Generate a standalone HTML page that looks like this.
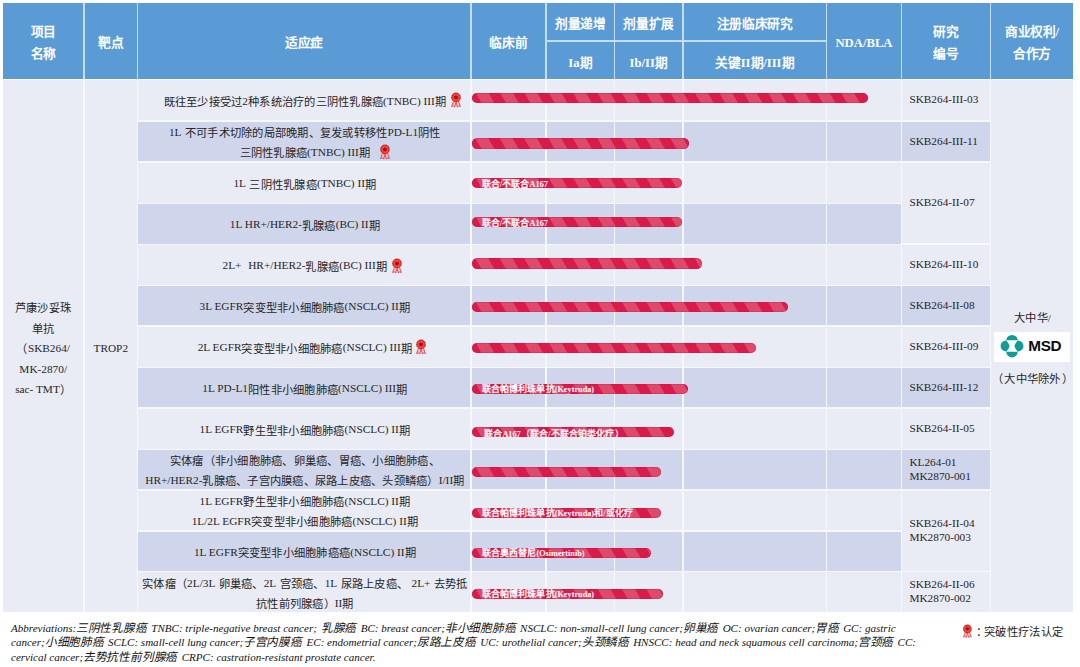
<!DOCTYPE html>
<html lang="zh-CN"><head><meta charset="utf-8"><title>Pipeline</title>
<style>
*{margin:0;padding:0;box-sizing:border-box}
html,body{width:1080px;height:667px;overflow:hidden;background:#fff}
body{position:relative;font-family:"Liberation Sans",sans-serif;color:#262626}
.l,.st{font-family:"Liberation Serif",serif}
#pg{position:absolute;left:0;top:0;width:1080px;height:667px;background:#fff;overflow:hidden}
.hbg{position:absolute;left:2.9px;top:2.9px;width:1069.9px;height:75.7px;background:#c3def8}
.bbg{position:absolute;left:2.9px;top:80.4px;width:1069.9px;height:531.3px;background:#f7f8fc}
.c{position:absolute;display:flex;align-items:center;justify-content:center;text-align:center;white-space:nowrap}
i{font-style:normal}
.h{color:#fff;font-weight:bold;font-size:12.7px;line-height:22.2px;letter-spacing:-.35px}
.h span{display:block;position:relative;top:2.6px}
.h .l{position:relative;top:0.1px;letter-spacing:0}
.s2 span{top:3.2px}
.s1 span{top:2.6px}
.b{font-size:11.3px;line-height:20.5px;color:#262626;letter-spacing:.25px}
.b .l{position:relative;top:-1.4px;letter-spacing:0}
.ind span{display:block;position:relative;top:1.9px;left:0.7px;line-height:20px}
.name{letter-spacing:.45px}
.name span{display:block;position:relative;top:3.7px}
.tg span{display:block;position:relative;top:3.6px}
.st{justify-content:flex-start;text-align:left;padding-left:7.4px;line-height:14px;font-size:11.3px;color:#262626}
.st span{position:relative;top:-0.9px}
.ros{position:absolute;overflow:visible}
.bar{position:absolute;left:472px;height:10.4px;border-radius:5.2px;overflow:hidden;
 background:repeating-linear-gradient(60deg,#d91a4b 0,#d91a4b 7.9px,#de496c 8.7px,#de496c 19px,#d91a4b 19.8px,#d91a4b 21.1px);
 box-shadow:inset 0 0 0 0.6px rgba(190,20,60,.5)}
.bar span{position:absolute;left:9.5px;top:-0.6px;font-size:9px;line-height:12px;font-weight:bold;color:#fff;white-space:nowrap;letter-spacing:.15px}
.bar .l{letter-spacing:0;font-size:8.25px}
.bar u{text-decoration:none;position:relative;left:2.6px;top:1.1px}
.pt{position:absolute;left:991px;width:83px;text-align:center;font-size:11.3px;letter-spacing:.25px;line-height:20px;color:#262626;white-space:nowrap}
.pt .l{letter-spacing:0}
.msd{position:absolute;left:993.6px;top:332px;width:76.2px;height:29.9px;background:#fff}
.msd svg{position:absolute;left:6.5px;top:2.4px}
.msd b{position:absolute;left:34.6px;top:5.3px;font-family:"Liberation Sans",sans-serif;font-size:15.3px;line-height:17px;color:#0d0d0d;letter-spacing:-0.3px}
.ft{position:absolute;left:11px;top:620.5px;font-style:normal;font-size:11.65px;letter-spacing:-.2px;word-spacing:1.2px;line-height:13.9px;color:#111;white-space:nowrap}
.ft .l{font-size:11.05px;letter-spacing:0;word-spacing:0;font-style:italic}
.ft .k{display:inline-block;transform:skewX(-13deg);transform-origin:50% 70%}
.lg{position:absolute;left:972.3px;top:622.3px;font-size:11.3px;letter-spacing:.4px;line-height:20px;color:#262626;white-space:nowrap;font-family:"Liberation Sans",sans-serif}
</style></head>
<body>
<svg width="0" height="0" style="position:absolute"><defs>
<g id="ros">
 <path d="M3.6 8.9 L1.6 14.5 L3.6 13.8 L4.7 15.1 L6 10.2 Z" fill="#f6c4c1" stroke="#d62c2c" stroke-width="0.75" stroke-linejoin="round"/>
 <path d="M8.4 8.9 L10.4 14.5 L8.4 13.8 L7.3 15.1 L6 10.2 Z" fill="#f6c4c1" stroke="#d62c2c" stroke-width="0.75" stroke-linejoin="round"/>
 <circle cx="6" cy="5.4" r="4.85" fill="#c5201f"/>
 <circle cx="6" cy="5.4" r="4.8" fill="none" stroke="#eceef6" stroke-width="0.8" stroke-dasharray="0.7 1.185" opacity=".55"/>
 <circle cx="6" cy="5.4" r="3.55" fill="#f0605b"/>
 <circle cx="6" cy="5.4" r="3.05" fill="#eb4340"/>
 <circle cx="6" cy="5.4" r="1.95" fill="#c40505"/>
</g>
<g id="msdmark" fill="#109b94">
 <path d="M6.25 6.4 A5.75 5.5 0 0 1 17.75 6.4 Z"/>
 <path d="M6.25 17.6 A5.75 5.85 0 0 0 17.75 17.6 Z"/>
 <circle cx="6.0" cy="12" r="5.45"/>
 <circle cx="18.0" cy="12" r="5.45"/>
 <path d="M6.25 6.4 L17.75 6.4 Q15 9.3 14.4 12 Q15 14.7 17.75 17.6 L6.25 17.6 Q9 14.7 9.6 12 Q9 9.3 6.25 6.4 Z" fill="#fff"/>
</g>
</defs></svg>
<div id="pg">
<div class="hbg"></div><div class="bbg"></div>
<div class="c h" style="left:2.95px;top:2.90px;width:80.55px;height:75.70px;background:#5b9bd5;"><span>项目<br>名称</span></div>
<div class="c h" style="left:84.90px;top:2.90px;width:51.80px;height:75.70px;background:#5b9bd5;"><span>靶点</span></div>
<div class="c h" style="left:138.10px;top:2.90px;width:332.10px;height:75.70px;background:#5b9bd5;"><span>适应症</span></div>
<div class="c h" style="left:471.60px;top:2.90px;width:73.60px;height:75.70px;background:#5b9bd5;"><span>临床前</span></div>
<div class="c h s1" style="left:546.60px;top:2.90px;width:67.20px;height:37.50px;background:#5b9bd5;"><span>剂量递增</span></div>
<div class="c h s2" style="left:546.60px;top:41.60px;width:67.20px;height:37.00px;background:#5b9bd5;"><span><i class="l">Ia</i>期</span></div>
<div class="c h s1" style="left:615.20px;top:2.90px;width:66.90px;height:37.50px;background:#5b9bd5;"><span>剂量扩展</span></div>
<div class="c h s2" style="left:615.20px;top:41.60px;width:66.90px;height:37.00px;background:#5b9bd5;"><span><i class="l">Ib/II</i>期</span></div>
<div class="c h s1" style="left:683.50px;top:2.90px;width:142.50px;height:37.50px;background:#5b9bd5;"><span>注册临床研究</span></div>
<div class="c h s2" style="left:683.50px;top:41.60px;width:142.50px;height:37.00px;background:#5b9bd5;"><span>关键<i class="l">II</i>期<i class="l">/III</i>期</span></div>
<div class="c h" style="left:827.40px;top:2.90px;width:73.20px;height:75.70px;background:#5b9bd5;"><span><i class="l">NDA/BLA</i></span></div>
<div class="c h" style="left:902.00px;top:2.90px;width:87.80px;height:75.70px;background:#5b9bd5;"><span>研究<br>编号</span></div>
<div class="c h" style="left:991.20px;top:2.90px;width:81.55px;height:75.70px;background:#5b9bd5;"><span>商业权利<i class="l">/</i><br>合作方</span></div>
<div class="c b name" style="left:2.95px;top:80.30px;width:80.55px;height:531.50px;background:#e9ebf5;"><span>芦康沙妥珠<br>单抗<br>（<i class="l">SKB264/</i><br><i class="l">MK-2870/</i><br><i class="l">sac- TMT</i>）</span></div>
<div class="c b tg" style="left:84.90px;top:80.30px;width:51.80px;height:531.50px;background:#e9ebf5;"><span><i class="l">TROP2</i></span></div>
<div class="c b ind" style="left:138.10px;top:80.30px;width:332.10px;height:39.90px;background:#e9ebf5;"><span>既往至少接受过<i class="l">2</i>种系统治疗的三阴性乳腺癌<i class="l">(TNBC) III</i>期</span></div>
<div class="c" style="left:471.60px;top:80.30px;width:73.60px;height:39.90px;background:#e9ebf5;"></div>
<div class="c" style="left:546.60px;top:80.30px;width:67.20px;height:39.90px;background:#e9ebf5;"></div>
<div class="c" style="left:615.20px;top:80.30px;width:66.90px;height:39.90px;background:#e9ebf5;"></div>
<div class="c" style="left:683.50px;top:80.30px;width:142.50px;height:39.90px;background:#e9ebf5;"></div>
<div class="c" style="left:827.40px;top:80.30px;width:73.20px;height:39.90px;background:#e9ebf5;"></div>
<div class="c b ind" style="left:138.10px;top:121.60px;width:332.10px;height:39.90px;background:#cfd5ea;"><span><i class="l">1L</i> 不可手术切除的局部晚期、复发或转移性<i class="l">PD-L1</i>阴性<br>三阴性乳腺癌<i class="l">(TNBC) III</i>期</span></div>
<div class="c" style="left:471.60px;top:121.60px;width:73.60px;height:39.90px;background:#cfd5ea;"></div>
<div class="c" style="left:546.60px;top:121.60px;width:67.20px;height:39.90px;background:#cfd5ea;"></div>
<div class="c" style="left:615.20px;top:121.60px;width:66.90px;height:39.90px;background:#cfd5ea;"></div>
<div class="c" style="left:683.50px;top:121.60px;width:142.50px;height:39.90px;background:#cfd5ea;"></div>
<div class="c" style="left:827.40px;top:121.60px;width:73.20px;height:39.90px;background:#cfd5ea;"></div>
<div class="c b ind" style="left:138.10px;top:162.90px;width:332.10px;height:39.70px;background:#e9ebf5;"><span><i class="l">1L</i> 三阴性乳腺癌<i class="l">(TNBC) II</i>期</span></div>
<div class="c" style="left:471.60px;top:162.90px;width:73.60px;height:39.70px;background:#e9ebf5;"></div>
<div class="c" style="left:546.60px;top:162.90px;width:67.20px;height:39.70px;background:#e9ebf5;"></div>
<div class="c" style="left:615.20px;top:162.90px;width:66.90px;height:39.70px;background:#e9ebf5;"></div>
<div class="c" style="left:683.50px;top:162.90px;width:142.50px;height:39.70px;background:#e9ebf5;"></div>
<div class="c" style="left:827.40px;top:162.90px;width:73.20px;height:39.70px;background:#e9ebf5;"></div>
<div class="c b ind" style="left:138.10px;top:204.00px;width:332.10px;height:39.50px;background:#cfd5ea;"><span><i class="l">1L HR+/HER2-</i>乳腺癌<i class="l">(BC) II</i>期</span></div>
<div class="c" style="left:471.60px;top:204.00px;width:73.60px;height:39.50px;background:#cfd5ea;"></div>
<div class="c" style="left:546.60px;top:204.00px;width:67.20px;height:39.50px;background:#cfd5ea;"></div>
<div class="c" style="left:615.20px;top:204.00px;width:66.90px;height:39.50px;background:#cfd5ea;"></div>
<div class="c" style="left:683.50px;top:204.00px;width:142.50px;height:39.50px;background:#cfd5ea;"></div>
<div class="c" style="left:827.40px;top:204.00px;width:73.20px;height:39.50px;background:#cfd5ea;"></div>
<div class="c b ind" style="left:138.10px;top:244.90px;width:332.10px;height:39.80px;background:#e9ebf5;"><span><i class="l">2L+</i> &nbsp;<i class="l">HR+/HER2-</i>乳腺癌<i class="l">(BC) III</i>期</span></div>
<div class="c" style="left:471.60px;top:244.90px;width:73.60px;height:39.80px;background:#e9ebf5;"></div>
<div class="c" style="left:546.60px;top:244.90px;width:67.20px;height:39.80px;background:#e9ebf5;"></div>
<div class="c" style="left:615.20px;top:244.90px;width:66.90px;height:39.80px;background:#e9ebf5;"></div>
<div class="c" style="left:683.50px;top:244.90px;width:142.50px;height:39.80px;background:#e9ebf5;"></div>
<div class="c" style="left:827.40px;top:244.90px;width:73.20px;height:39.80px;background:#e9ebf5;"></div>
<div class="c b ind" style="left:138.10px;top:286.10px;width:332.10px;height:39.20px;background:#cfd5ea;"><span><i class="l">3L EGFR</i>突变型非小细胞肺癌<i class="l">(NSCLC) II</i>期</span></div>
<div class="c" style="left:471.60px;top:286.10px;width:73.60px;height:39.20px;background:#cfd5ea;"></div>
<div class="c" style="left:546.60px;top:286.10px;width:67.20px;height:39.20px;background:#cfd5ea;"></div>
<div class="c" style="left:615.20px;top:286.10px;width:66.90px;height:39.20px;background:#cfd5ea;"></div>
<div class="c" style="left:683.50px;top:286.10px;width:142.50px;height:39.20px;background:#cfd5ea;"></div>
<div class="c" style="left:827.40px;top:286.10px;width:73.20px;height:39.20px;background:#cfd5ea;"></div>
<div class="c b ind" style="left:138.10px;top:326.70px;width:332.10px;height:39.90px;background:#e9ebf5;"><span><i class="l">2L EGFR</i>突变型非小细胞肺癌<i class="l">(NSCLC) III</i>期</span></div>
<div class="c" style="left:471.60px;top:326.70px;width:73.60px;height:39.90px;background:#e9ebf5;"></div>
<div class="c" style="left:546.60px;top:326.70px;width:67.20px;height:39.90px;background:#e9ebf5;"></div>
<div class="c" style="left:615.20px;top:326.70px;width:66.90px;height:39.90px;background:#e9ebf5;"></div>
<div class="c" style="left:683.50px;top:326.70px;width:142.50px;height:39.90px;background:#e9ebf5;"></div>
<div class="c" style="left:827.40px;top:326.70px;width:73.20px;height:39.90px;background:#e9ebf5;"></div>
<div class="c b ind" style="left:138.10px;top:368.00px;width:332.10px;height:39.30px;background:#cfd5ea;"><span><i class="l">1L PD-L1</i>阳性非小细胞肺癌<i class="l">(NSCLC) III</i>期</span></div>
<div class="c" style="left:471.60px;top:368.00px;width:73.60px;height:39.30px;background:#cfd5ea;"></div>
<div class="c" style="left:546.60px;top:368.00px;width:67.20px;height:39.30px;background:#cfd5ea;"></div>
<div class="c" style="left:615.20px;top:368.00px;width:66.90px;height:39.30px;background:#cfd5ea;"></div>
<div class="c" style="left:683.50px;top:368.00px;width:142.50px;height:39.30px;background:#cfd5ea;"></div>
<div class="c" style="left:827.40px;top:368.00px;width:73.20px;height:39.30px;background:#cfd5ea;"></div>
<div class="c b ind" style="left:138.10px;top:408.70px;width:332.10px;height:40.00px;background:#e9ebf5;"><span><i class="l">1L EGFR</i>野生型非小细胞肺癌<i class="l">(NSCLC) II</i>期</span></div>
<div class="c" style="left:471.60px;top:408.70px;width:73.60px;height:40.00px;background:#e9ebf5;"></div>
<div class="c" style="left:546.60px;top:408.70px;width:67.20px;height:40.00px;background:#e9ebf5;"></div>
<div class="c" style="left:615.20px;top:408.70px;width:66.90px;height:40.00px;background:#e9ebf5;"></div>
<div class="c" style="left:683.50px;top:408.70px;width:142.50px;height:40.00px;background:#e9ebf5;"></div>
<div class="c" style="left:827.40px;top:408.70px;width:73.20px;height:40.00px;background:#e9ebf5;"></div>
<div class="c b ind" style="left:138.10px;top:450.10px;width:332.10px;height:39.00px;background:#cfd5ea;"><span>实体瘤（非小细胞肺癌、卵巢癌、胃癌、小细胞肺癌、<br><i class="l">HR+/HER2-</i>乳腺癌、子宫内膜癌、尿路上皮癌、头颈鳞癌）<i class="l">I/II</i>期</span></div>
<div class="c" style="left:471.60px;top:450.10px;width:73.60px;height:39.00px;background:#cfd5ea;"></div>
<div class="c" style="left:546.60px;top:450.10px;width:67.20px;height:39.00px;background:#cfd5ea;"></div>
<div class="c" style="left:615.20px;top:450.10px;width:66.90px;height:39.00px;background:#cfd5ea;"></div>
<div class="c" style="left:683.50px;top:450.10px;width:142.50px;height:39.00px;background:#cfd5ea;"></div>
<div class="c" style="left:827.40px;top:450.10px;width:73.20px;height:39.00px;background:#cfd5ea;"></div>
<div class="c b ind" style="left:138.10px;top:490.50px;width:332.10px;height:39.90px;background:#e9ebf5;"><span><i class="l">1L EGFR</i>野生型非小细胞肺癌<i class="l">(NSCLC) II</i>期<br><i class="l">1L/2L EGFR</i>突变型非小细胞肺癌<i class="l">(NSCLC) II</i>期</span></div>
<div class="c" style="left:471.60px;top:490.50px;width:73.60px;height:39.90px;background:#e9ebf5;"></div>
<div class="c" style="left:546.60px;top:490.50px;width:67.20px;height:39.90px;background:#e9ebf5;"></div>
<div class="c" style="left:615.20px;top:490.50px;width:66.90px;height:39.90px;background:#e9ebf5;"></div>
<div class="c" style="left:683.50px;top:490.50px;width:142.50px;height:39.90px;background:#e9ebf5;"></div>
<div class="c" style="left:827.40px;top:490.50px;width:73.20px;height:39.90px;background:#e9ebf5;"></div>
<div class="c b ind" style="left:138.10px;top:531.80px;width:332.10px;height:39.20px;background:#cfd5ea;"><span><i class="l">1L EGFR</i>突变型非小细胞肺癌癌<i class="l">(NSCLC) II</i>期</span></div>
<div class="c" style="left:471.60px;top:531.80px;width:73.60px;height:39.20px;background:#cfd5ea;"></div>
<div class="c" style="left:546.60px;top:531.80px;width:67.20px;height:39.20px;background:#cfd5ea;"></div>
<div class="c" style="left:615.20px;top:531.80px;width:66.90px;height:39.20px;background:#cfd5ea;"></div>
<div class="c" style="left:683.50px;top:531.80px;width:142.50px;height:39.20px;background:#cfd5ea;"></div>
<div class="c" style="left:827.40px;top:531.80px;width:73.20px;height:39.20px;background:#cfd5ea;"></div>
<div class="c b ind" style="left:138.10px;top:572.40px;width:332.10px;height:39.40px;background:#e9ebf5;"><span>实体瘤（<i class="l">2L/3L</i> 卵巢癌、<i class="l">2L</i> 宫颈癌、<i class="l">1L</i> 尿路上皮癌、 <i class="l">2L+</i> 去势抵<br>抗性前列腺癌）<i class="l">II</i>期</span></div>
<div class="c" style="left:471.60px;top:572.40px;width:73.60px;height:39.40px;background:#e9ebf5;"></div>
<div class="c" style="left:546.60px;top:572.40px;width:67.20px;height:39.40px;background:#e9ebf5;"></div>
<div class="c" style="left:615.20px;top:572.40px;width:66.90px;height:39.40px;background:#e9ebf5;"></div>
<div class="c" style="left:683.50px;top:572.40px;width:142.50px;height:39.40px;background:#e9ebf5;"></div>
<div class="c" style="left:827.40px;top:572.40px;width:73.20px;height:39.40px;background:#e9ebf5;"></div>
<div class="c st" style="left:902.00px;top:80.30px;width:87.80px;height:39.90px;background:#e9ebf5;"><span>SKB264-III-03</span></div>
<div class="c st" style="left:902.00px;top:121.60px;width:87.80px;height:39.90px;background:#cfd5ea;"><span>SKB264-III-11</span></div>
<div class="c st" style="left:902.00px;top:162.90px;width:87.80px;height:80.60px;background:#e9ebf5;"><span>SKB264-II-07</span></div>
<div class="c st" style="left:902.00px;top:244.90px;width:87.80px;height:39.80px;background:#e9ebf5;"><span>SKB264-III-10</span></div>
<div class="c st" style="left:902.00px;top:286.10px;width:87.80px;height:39.20px;background:#cfd5ea;"><span>SKB264-II-08</span></div>
<div class="c st" style="left:902.00px;top:326.70px;width:87.80px;height:39.90px;background:#e9ebf5;"><span>SKB264-III-09</span></div>
<div class="c st" style="left:902.00px;top:368.00px;width:87.80px;height:39.30px;background:#cfd5ea;"><span>SKB264-III-12</span></div>
<div class="c st" style="left:902.00px;top:408.70px;width:87.80px;height:40.00px;background:#e9ebf5;"><span>SKB264-II-05</span></div>
<div class="c st" style="left:902.00px;top:450.10px;width:87.80px;height:39.00px;background:#cfd5ea;"><span>KL264-01<br>MK2870-001</span></div>
<div class="c st" style="left:902.00px;top:490.50px;width:87.80px;height:80.50px;background:#e9ebf5;"><span>SKB264-II-04<br>MK2870-003</span></div>
<div class="c st" style="left:902.00px;top:572.40px;width:87.80px;height:39.40px;background:#e9ebf5;"><span>SKB264-II-06<br>MK2870-002</span></div>
<div class="c" style="left:991.20px;top:80.30px;width:81.55px;height:531.50px;background:#e9ebf5;"></div>
<div class="pt" style="top:308.3px">大中华<i class="l">/</i></div>
<div class="msd"><svg width="24" height="24" viewBox="0 0 24 24"><use href="#msdmark"/></svg><b>MSD</b></div>
<div class="pt" style="top:369.3px"><i style="margin-right:1.6px">（</i>大中华除外<i style="margin-left:1.6px">）</i></div>
<div class="bar" style="top:92.70px;width:396.00px"></div>
<div class="bar" style="top:138.30px;width:217.00px"></div>
<div class="bar" style="top:177.90px;width:209.70px"><span style="top:0.4px">联合<i class="l">/</i>不联合<i class="l">A167</i></span></div>
<div class="bar" style="top:217.00px;width:209.70px"><span style="top:0.4px">联合<i class="l">/</i>不联合<i class="l">A167</i></span></div>
<div class="bar" style="top:258.30px;width:229.70px"></div>
<div class="bar" style="top:301.60px;width:316.00px"></div>
<div class="bar" style="top:342.90px;width:284.00px"></div>
<div class="bar" style="top:383.80px;width:216.20px"><span style="top:-0.4px">联合帕博利珠单抗<i class="l">(Keytruda)</i></span></div>
<div class="bar" style="top:426.80px;width:202.00px"><span style="top:-0.4px"><u>联合<i class="l">A167</i>（联合<i class="l">/</i>不联合铂类化疗）</u></span></div>
<div class="bar" style="top:467.10px;width:188.80px"></div>
<div class="bar" style="top:507.50px;width:188.80px"><span style="top:-0.4px">联合帕博利珠单抗<i class="l">(Keytruda)</i>和<i class="l">/</i>或化疗</span></div>
<div class="bar" style="top:547.50px;width:179.00px"><span style="top:-0.4px">联合奥西替尼<i class="l">(Osimertinib)</i></span></div>
<div class="bar" style="top:588.80px;width:191.30px"><span style="top:-0.4px">联合帕博利珠单抗<i class="l">(Keytruda)</i></span></div>
<svg class="ros" style="left:449.60px;top:92.20px" width="12.00" height="16.00" viewBox="0 0 12 16"><use href="#ros"/></svg>
<svg class="ros" style="left:379.40px;top:144.30px" width="12.00" height="16.00" viewBox="0 0 12 16"><use href="#ros"/></svg>
<svg class="ros" style="left:391.40px;top:257.70px" width="12.00" height="16.00" viewBox="0 0 12 16"><use href="#ros"/></svg>
<svg class="ros" style="left:414.50px;top:339.30px" width="12.00" height="16.00" viewBox="0 0 12 16"><use href="#ros"/></svg>
<svg class="ros" style="left:961.80px;top:624.04px" width="10.80" height="14.40" viewBox="0 0 12 16"><use href="#ros"/></svg>
<div class="ft"><i class="l">Abbreviations:</i><i class="k">三阴性乳腺癌</i> <i class="l">TNBC: triple-negative breast cancer;</i> <i class="k">乳腺癌</i> <i class="l">BC: breast cancer;</i><i class="k">非小细胞肺癌</i> <i class="l">NSCLC: non-small-cell lung cancer;</i><i class="k">卵巢癌</i> <i class="l">OC: ovarian cancer;</i><i class="k">胃癌</i> <i class="l">GC: gastric</i><br><i class="l">cancer;</i><i class="k">小细胞肺癌</i> <i class="l">SCLC: small-cell lung cancer;</i><i class="k">子宫内膜癌</i> <i class="l">EC: endometrial cancer;</i><i class="k">尿路上皮癌</i> <i class="l">UC: urothelial cancer;</i><i class="k">头颈鳞癌</i> <i class="l">HNSCC: head and neck squamous cell carcinoma;</i><i class="k">宫颈癌</i> <i class="l">CC:</i><br><i class="l">cervical cancer;</i><i class="k">去势抗性前列腺癌</i> <i class="l">CRPC: castration-resistant prostate cancer.</i></div>
<div class="lg"><i style="position:relative;left:3.8px">：</i>突破性疗法认定</div>
</div>
</body></html>
